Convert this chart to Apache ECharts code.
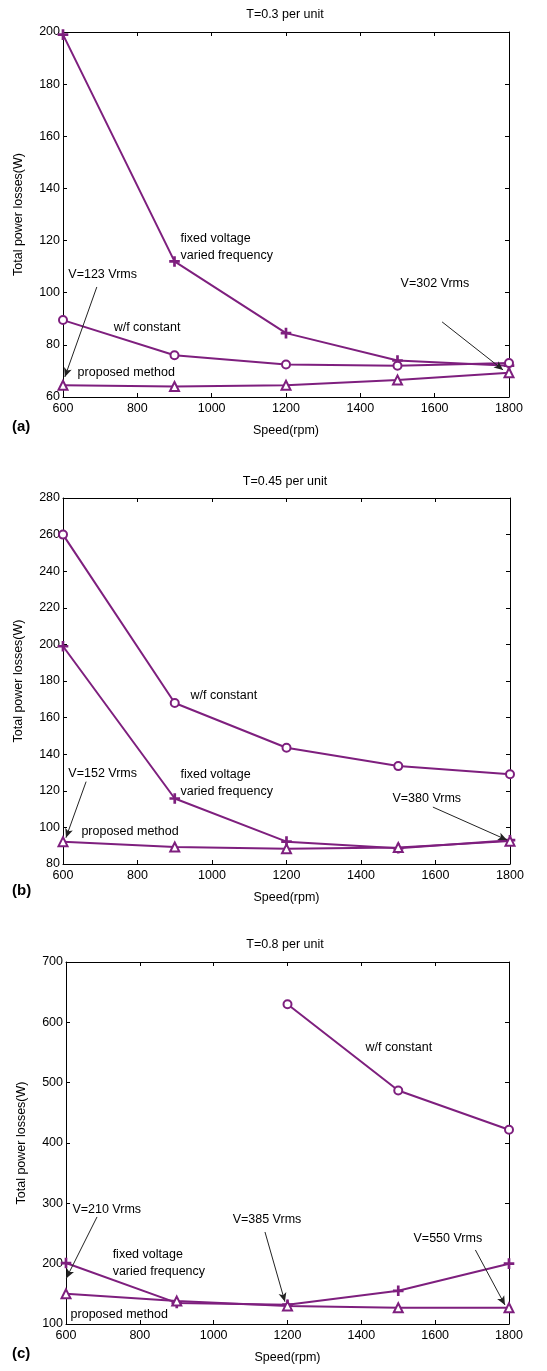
<!DOCTYPE html>
<html>
<head>
<meta charset="utf-8">
<script src="https://cdn.jsdelivr.net/npm/echarts@6/dist/echarts.min.js"></script>
<style>
  html, body { margin: 0; padding: 0; background: #fff; }
  #main { width: 547px; height: 1371px; }
</style>
</head>
<body>
<div id="main"></div>
<script>
// speeds shared by all three panels
const speed = [600, 900, 1200, 1500, 1800];

// (a) T=0.3 pu
const fixedA = [199, 112, 84.5, 74, 72];
const vfA = [89.5, 76, 72.5, 72, 73];
const propA = [64.5, 64, 64.5, 66.5, 69.3];

// (b) T=0.45 pu
const vfB = [260, 168, 143.5, 133.5, 129];
const fixedB = [199, 115.8, 92.2, 88.6, 93];
const propB = [92.2, 89.3, 88.3, 89, 92.5];

// (c) T=0.8 pu, w/f constant only from 1200 rpm
const vfC = [null, null, 630, 487, 422];
const fixedC = [201, 135, 132, 155, 200];
const propC = [150, 138, 130, 127, 127];

const titles = ['T=0.3 per unit', 'T=0.45 per unit', 'T=0.8 per unit'];
const panelTags = ['(a)', '(b)', '(c)'];
const yRanges = [[60, 200, 20], [80, 280, 20], [100, 700, 100]];

// annotation texts [x, y, text] in data units
const notesA = [
  [613, 106.8, 'V=123 Vrms'],
  [1507, 103.7, 'V=302 Vrms'],
  [915, 117.7, 'fixed voltage\nvaried frequency'],
  [735, 86.5, 'w/f constant'],
  [638, 69.2, 'proposed method']
];
const notesB = [
  [941, 172.3, 'w/f constant'],
  [613, 129.2, 'V=152 Vrms'],
  [914, 124.5, 'fixed voltage\nvaried frequency'],
  [1483, 116, 'V=380 Vrms'],
  [648, 97.5, 'proposed method']
];
const notesC = [
  [1410, 557.5, 'w/f constant'],
  [616, 289, 'V=210 Vrms'],
  [1050, 272.8, 'V=385 Vrms'],
  [1540, 240.9, 'V=550 Vrms'],
  [725, 200.3, 'fixed voltage\nvaried frequency'],
  [611, 115, 'proposed method']
];
// arrows [x1, y1, x2, y2]
const arrowsA = [[691, 102.2, 605, 67.7], [1620, 88.8, 1784, 70.4]];
const arrowsB = [[662, 125, 608, 94.4], [1593, 111.1, 1792, 93.1]];
const arrowsC = [[684, 277.4, 601, 176], [1139, 252.5, 1193, 137], [1709, 222.7, 1789, 131.5]];

const FONT = 'Liberation Sans, Arial, sans-serif';
const LINE = '#7e1f7e';
const plusPath = 'path://M4.4,0h1.2v4.4h4.4v1.2h-4.4v4.4h-1.2v-4.4h-4.4v-1.2h4.4z';

const grids = [
  { left: 63, top: 32, width: 446, height: 365 },
  { left: 63, top: 498, width: 447, height: 366 },
  { left: 66, top: 962, width: 443, height: 362 }
];

const xAxes = [];
const yAxes = [];
grids.forEach((g, i) => {
  const base = {
    gridIndex: i, type: 'value', min: 600, max: 1800, interval: 200,
    axisLine: { show: true, lineStyle: { color: '#000', width: 1 } },
    axisTick: { show: true, inside: true, length: 4, lineStyle: { color: '#000' } },
    splitLine: { show: false }
  };
  xAxes.push(Object.assign({}, base, {
    position: 'bottom',
    axisLabel: { color: '#000', fontFamily: FONT, fontSize: 12.5, margin: 5, formatter: v => String(v) },
    name: 'Speed(rpm)', nameLocation: 'middle', nameGap: 27,
    nameTextStyle: { color: '#000', fontFamily: FONT, fontSize: 12.5 }
  }));
  xAxes.push(Object.assign({}, base, { position: 'top', axisLabel: { show: false } }));
  const yr = yRanges[i];
  const ybase = {
    gridIndex: i, type: 'value', min: yr[0], max: yr[1], interval: yr[2],
    axisLine: { show: true, lineStyle: { color: '#000', width: 1 } },
    axisTick: { show: true, inside: true, length: 4, lineStyle: { color: '#000' } },
    splitLine: { show: false }
  };
  yAxes.push(Object.assign({}, ybase, {
    position: 'left',
    axisLabel: { color: '#000', fontFamily: FONT, fontSize: 12.5, margin: 3, formatter: v => String(v) },
    name: 'Total power losses(W)', nameLocation: 'middle', nameGap: 38,
    nameTextStyle: { color: '#000', fontFamily: FONT, fontSize: 12.5 }
  }));
  yAxes.push(Object.assign({}, ybase, { position: 'right', axisLabel: { show: false } }));
});

function pairs(vals) {
  return speed.map((s, k) => [s, vals[k]]);
}

function curve(i, vals, symbol, size, extra) {
  return Object.assign({
    type: 'line', xAxisIndex: i * 2, yAxisIndex: i * 2,
    data: pairs(vals), symbol: symbol, symbolSize: size, showAllSymbol: true,
    connectNulls: false, z: 3,
    lineStyle: { color: LINE, width: 2 },
    itemStyle: { color: LINE, borderColor: LINE, borderWidth: 1.6 },
    emphasis: { disabled: true }, silent: true, animation: false
  }, extra || {});
}

function notes(list, arrows) {
  return {
    markPoint: {
      silent: true, symbol: 'circle', symbolSize: 1,
      itemStyle: { color: 'rgba(0,0,0,0)' },
      label: {
        show: true, position: 'right', distance: 0, color: '#000',
        fontFamily: FONT, fontSize: 12.5, lineHeight: 17,
        formatter: p => p.name
      },
      data: list.map(n => ({ coord: [n[0], n[1]], name: n[2] }))
    },
    markLine: {
      silent: true, symbol: ['none', 'arrow'], symbolSize: [6, 9],
      label: { show: false },
      lineStyle: { color: '#222', width: 1, type: 'solid' },
      data: arrows.map(a => [{ coord: [a[0], a[1]] }, { coord: [a[2], a[3]] }])
    }
  };
}

const series = [
  curve(0, fixedA, plusPath, 9),
  curve(0, vfA, 'emptyCircle', 8),
  curve(0, propA, 'emptyTriangle', 9, notes(notesA, arrowsA)),
  curve(1, vfB, 'emptyCircle', 8),
  curve(1, fixedB, plusPath, 9),
  curve(1, propB, 'emptyTriangle', 9, notes(notesB, arrowsB)),
  curve(2, vfC, 'emptyCircle', 8),
  curve(2, fixedC, plusPath, 9),
  curve(2, propC, 'emptyTriangle', 9, notes(notesC, arrowsC))
];

const titleY = [15, 482, 945];
const tagY = [428, 892, 1355];
const graphic = [];
titles.forEach((t, i) => {
  graphic.push({
    type: 'text', x: 285, y: titleY[i],
    style: { text: t, fill: '#000', font: '12.5px ' + FONT, align: 'center', verticalAlign: 'middle' }
  });
  graphic.push({
    type: 'text', left: 12, top: tagY[i] - 9,
    style: { text: panelTags[i], fill: '#000', font: 'bold 15px ' + FONT }
  });
});

const chart = echarts.init(document.getElementById('main'), null, { renderer: 'canvas' });
chart.setOption({
  animation: false,
  backgroundColor: '#fff',
  grid: grids,
  xAxis: xAxes,
  yAxis: yAxes,
  series: series,
  graphic: graphic
});
</script>
</body>
</html>
